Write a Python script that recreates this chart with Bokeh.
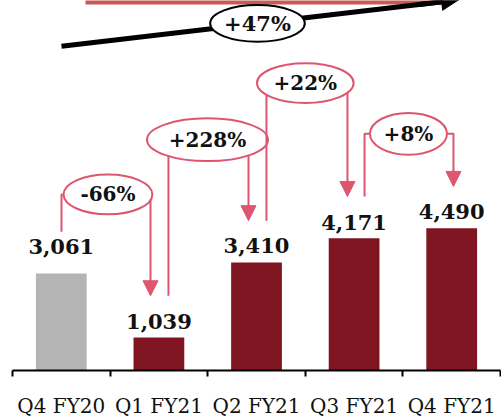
from bokeh.plotting import figure
from bokeh.models import ColumnDataSource, FixedTicker, Range1d, Arrow, NormalHead
from bokeh.core.properties import value
from bokeh.embed import file_html
from bokeh.resources import INLINE

# Quarterly figures
quarters = ["Q4 FY20", "Q1 FY21", "Q2 FY21", "Q3 FY21", "Q4 FY21"]
revenue = [3061, 1039, 3410, 4171, 4490]


def pct(a, b):
    r = round((b / a - 1) * 100)
    return ("+" if r > 0 else "") + f"{r}%"


# quarter-over-quarter changes and the overall year-on-year change
qoq_labels = [pct(revenue[i], revenue[i + 1]) for i in range(len(revenue) - 1)]
yoy_label = pct(revenue[0], revenue[-1])

SERIF = "DejaVu Serif"
RED = "#DE5570"
DARK = "#7E1520"
GREY = "#B4B4B4"

x_pos = [i + 0.5 for i in range(len(quarters))]
colors = [GREY] + [DARK] * (len(quarters) - 1)

Y_MAX = 11680
p = figure(width=501, height=420, x_range=Range1d(0, 5), y_range=Range1d(0, Y_MAX),
           output_backend="svg", toolbar_location=None, y_axis_location=None,
           min_border_left=12, min_border_right=1, min_border_top=0, min_border_bottom=48)
p.outline_line_color = None
p.xgrid.visible = False
p.ygrid.visible = False
p.background_fill_color = "white"
p.border_fill_color = "white"

src = ColumnDataSource(dict(x=x_pos, top=revenue, color=colors))
p.vbar(x="x", top="top", width=0.52, fill_color="color", line_color=None, source=src)

# value labels above bars
label_gap = [27, 16, 17, 16, 17]
for xv, v, g in zip(x_pos, revenue, label_gap):
    p.text(x=[xv], y=[v], text=[f"{v:,}"], text_align="center", text_baseline="middle",
           y_offset=-g, text_font=value(SERIF), text_font_style="bold",
           text_font_size="21px", text_color="#111111")

# category axis: labels at centres, ticks at boundaries
ax = p.xaxis[0]
ax.ticker = FixedTicker(ticks=x_pos, minor_ticks=[0, 1, 2, 3, 4, 5])
ax.major_label_overrides = {xv: q for xv, q in zip(x_pos, quarters)}
ax.axis_line_width = 2
ax.axis_line_color = "black"
ax.major_tick_out = 0
ax.major_tick_in = 0
ax.minor_tick_out = 6
ax.minor_tick_in = 0
ax.minor_tick_line_width = 2
ax.minor_tick_line_color = "black"
ax.major_label_standoff = 17
ax.major_label_text_font = SERIF
ax.major_label_text_font_size = "20px"
ax.major_label_text_color = "#111111"

# quarter-over-quarter brackets: (left x, right x, ellipse centre x, centre y, width, height)
GAP = 1320
brackets = [
    (0.502, 1.414, 0.978, 5558, 0.91, 1256),
    (1.598, 2.418, 1.998, 7285, 1.24, 1350),
    (2.602, 3.432, 3.000, 9075, 0.99, 1256),
    (3.607, 4.518, 4.057, 7473, 0.79, 1319),
]
for i, (xl, xr, xc, yc, w, h) in enumerate(brackets):
    y_from = revenue[i] + GAP
    y_to = revenue[i + 1] + GAP
    p.line(x=[xl, xl, xc], y=[y_from, yc, yc], line_color=RED, line_width=2)
    p.line(x=[xc, xr, xr], y=[yc, yc, y_to + 300], line_color=RED, line_width=2)
    p.add_layout(Arrow(x_start=xr, y_start=y_to + 500, x_end=xr, y_end=y_to,
                       line_color=RED, line_width=2,
                       end=NormalHead(size=15, fill_color=RED, line_color=RED, line_width=1)))
    p.ellipse(x=[xc], y=[yc], width=[w], height=[h], fill_color="white",
              line_color=RED, line_width=2)
    p.text(x=[xc], y=[yc], text=[qoq_labels[i]], text_align="center", text_baseline="middle",
           text_font=value(SERIF), text_font_style="bold", text_font_size="20px",
           text_color="#111111")

# overall growth banner with trend arrow
p.quad(left=[0.748], right=[4.406], bottom=[11550], top=[13000],
       fill_color="#C85A52", line_color=None)
ax0, ay0, ax1, ay1 = 0.502, 10236, 4.57, 11700
p.line(x=[ax0, ax0 + (ax1 - ax0) * 0.96], y=[ay0, ay0 + (ay1 - ay0) * 0.96],
       line_color="black", line_width=5)
p.add_layout(Arrow(x_start=ax0 + (ax1 - ax0) * 0.9, y_start=ay0 + (ay1 - ay0) * 0.9,
                   x_end=ax1, y_end=ay1, line_color="black", line_width=5,
                   end=NormalHead(size=17, fill_color="black", line_color="black")))
p.ellipse(x=[2.51], y=[10959], width=[0.97], height=[1162], fill_color="white",
          line_color="black", line_width=2)
p.text(x=[2.51], y=[10959], text=[yoy_label], text_align="center", text_baseline="middle",
       text_font=value(SERIF), text_font_style="bold", text_font_size="21px",
       text_color="#111111")

open("out.html", "w").write(file_html(p, INLINE))
